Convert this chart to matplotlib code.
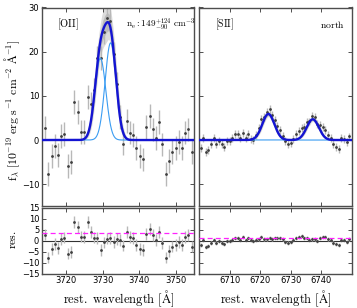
import numpy as np
import matplotlib
matplotlib.use("Agg")
import matplotlib.pyplot as plt

plt.rcParams['mathtext.fontset'] = 'cm'
plt.rcParams['font.family'] = ['DejaVu Sans']
plt.rcParams['font.size'] = 6
for ax_ in ('xtick', 'ytick'):
    plt.rcParams[ax_ + '.direction'] = 'in'
    plt.rcParams[ax_ + '.major.size'] = 3
    plt.rcParams[ax_ + '.major.width'] = 0.6
    plt.rcParams[ax_ + '.major.pad'] = 2
plt.rcParams['xtick.top'] = True
plt.rcParams['ytick.right'] = True

# ---------------- data: [OII] ----------------
oii_wave = [3714.3, 3715.2, 3716.1, 3717.0, 3717.9, 3718.8, 3719.6, 3720.5, 3721.4,
            3722.3, 3723.2, 3724.1, 3725.0, 3725.9, 3726.8, 3727.7, 3728.6, 3729.5,
            3730.3, 3731.2, 3732.1, 3733.0, 3733.9, 3734.8, 3735.7, 3736.6, 3737.5,
            3738.3, 3739.2, 3740.1, 3741.0, 3741.9, 3742.8, 3743.7, 3744.6, 3745.5,
            3746.3, 3747.2, 3748.1, 3749.0, 3749.9, 3750.8, 3751.7, 3752.6, 3753.4,
            3754.3]
oii_flux = [2.8, -7.7, -3.7, -1.4, -3.4, 0.9, 1.4, -5.9, -5.0,
            8.7, 6.3, 1.9, 1.9, 9.8, 8.1, 11.4, 18.5, 18.5,
            24.5, 27.6, 27.0, 19.4, 12.7, 5.3, -0.8, 4.3, 1.7,
            1.1, -1.8, -3.7, -4.4, 3.0, 5.5, 2.4, 0.4, 4.1,
            -1.0, -7.7, -4.8, -2.7, -1.8, -0.5, -1.8, 1.7, 2.4,
            -2.7]
oii_err = 2.7
oii_amp = [18.5, 22.0]
oii_cen = [3729.4, 3732.2]
oii_sig = [1.5, 1.5]
oii_rms = 3.4

# ---------------- data: [SII] ----------------
sii_wave = [6700.3, 6701.2, 6702.0, 6702.9, 6703.8, 6704.6, 6705.5, 6706.4, 6707.3,
            6708.1, 6709.0, 6709.9, 6710.7, 6711.6, 6712.5, 6713.4, 6714.2, 6715.1,
            6716.0, 6716.8, 6717.7, 6718.6, 6719.5, 6720.3, 6721.2, 6722.1, 6723.0,
            6723.8, 6724.7, 6725.6, 6726.5, 6727.3, 6728.2, 6729.1, 6730.0, 6730.8,
            6731.7, 6732.6, 6733.5, 6734.3, 6735.2, 6736.1, 6737.0, 6737.8, 6738.7,
            6739.6, 6740.5, 6741.3, 6742.2, 6743.1, 6744.0, 6744.8, 6745.7, 6746.6,
            6747.5, 6748.3, 6749.2]
sii_flux = [-1.8, 0.5, -2.7, -2.3, -0.9, 0.5, -0.9, -0.2, -0.9,
            -1.5, -0.2, -0.2, 0.5, 1.3, 1.3, 0.5, 1.6, 0.5,
            1.4, 0.2, 0.0, 1.2, 2.7, 4.7, 5.2, 6.3, 7.0,
            5.7, 4.5, 3.2, 2.3, 1.0, -0.3, -1.0, -0.6, 0.2,
            1.3, 2.0, 2.8, 3.0, 4.0, 4.2, 5.5, 5.2, 3.6,
            3.4, 3.0, 2.3, 1.1, 0.4, -0.9, -1.5, -2.0, 0.5,
            0.2, -0.5, 0.8]
sii_err = 0.9
sii_amp = [5.9, 4.7]
sii_cen = [6722.6, 6737.2]
sii_sig = [2.0, 2.0]
sii_rms = 1.1

def gauss(x, a, c, s):
    return a * np.exp(-0.5 * ((x - c) / s) ** 2)

def model(x, amps, cens, sigs):
    return sum(gauss(x, a, c, s) for a, c, s in zip(amps, cens, sigs))

W, H = 357, 308
fig = plt.figure(figsize=(W / 100, H / 100), dpi=100)

def frac(x0, x1, y0, y1):
    return [x0 / W, 1 - y1 / H, (x1 - x0) / W, (y1 - y0) / H]

ax_o = fig.add_axes(frac(42, 194.3, 7.5, 206.3))
ax_or = fig.add_axes(frac(42, 194.3, 207.8, 273.5))
ax_s = fig.add_axes(frac(199, 352.3, 7.5, 206.3))
ax_sr = fig.add_axes(frac(199, 352.3, 207.8, 273.5))

dark_blue = '#1414d2'
light_blue = '#3a9cf2'

def draw(ax, axr, wave, flux, err, amps, cens, sigs, rms, xlim, xticks):
    wave = np.asarray(wave); flux = np.asarray(flux)
    xf = np.linspace(xlim[0], xlim[1], 800)
    tot = model(xf, amps, cens, sigs)
    # uncertainty envelope
    curves = []
    for fa in (0.9, 1.0, 1.1):
        for fs in (0.93, 1.0, 1.07):
            for dc in (-0.15, 0.0, 0.15):
                curves.append(model(xf, [a * fa for a in amps], [c + dc for c in cens],
                                    [s * fs for s in sigs]))
    curves = np.array(curves)
    ax.fill_between(xf, curves.min(0), curves.max(0), color='0.55', alpha=0.3, lw=0, zorder=1)
    ax.fill_between(xf, 0.5 * (curves.min(0) + tot), 0.5 * (curves.max(0) + tot),
                    color='0.45', alpha=0.3, lw=0, zorder=1)
    ax.errorbar(wave, flux, yerr=err, fmt='o', ms=1.0, color='0.25', ecolor='0.72',
                elinewidth=1.0, capsize=0, zorder=2)
    for a, c, s in zip(amps, cens, sigs):
        ax.plot(xf, gauss(xf, a, c, s), color=light_blue, lw=0.8, zorder=3)
    ax.plot(xf, tot, color=dark_blue, lw=1.7, zorder=4)
    ax.set_xlim(xlim); ax.set_ylim(-15, 30)
    ax.set_xticks(xticks); ax.set_xticklabels([])
    ax.set_yticks([-10, 0, 10, 20, 30])

    res = flux - model(wave, amps, cens, sigs)
    axr.errorbar(wave, res, yerr=err, fmt='o', ms=1.0, color='0.25', ecolor='0.72',
                 elinewidth=1.0, capsize=0, zorder=2)
    axr.axhline(0, color='0.2', lw=0.8, zorder=1)
    axr.axhline(rms, color='#ff22ff', lw=0.9, ls=(0, (4, 2.5)), zorder=3)
    axr.set_xlim(xlim); axr.set_ylim(-15, 15)
    axr.set_xticks(xticks)
    axr.set_yticks([-15, -10, -5, 0, 5, 10, 15])
    for a in (ax, axr):
        for sp in a.spines.values():
            sp.set_color('0.3'); sp.set_linewidth(1.0)
        a.tick_params(colors='0.2', labelcolor='black')
    axr.set_xlabel(r'$\mathrm{rest.\ wavelength\ [\AA]}$', fontsize=9, labelpad=2)

draw(ax_o, ax_or, oii_wave, oii_flux, oii_err, oii_amp, oii_cen, oii_sig, oii_rms,
     (3713.5, 3755.0), [3720, 3730, 3740, 3750])
draw(ax_s, ax_sr, sii_wave, sii_flux, sii_err, sii_amp, sii_cen, sii_sig, sii_rms,
     (6699.8, 6750.2), [6710, 6720, 6730, 6740])
ax_s.set_yticklabels([]); ax_sr.set_yticklabels([])

ax_o.text(0.10, 0.915, r'$\mathrm{[OII]}$', transform=ax_o.transAxes, fontsize=7.5, va='center')
ax_o.text(0.55, 0.915, r'$\mathrm{n_e: 149^{+124}_{-90}\ cm^{-3}}$', transform=ax_o.transAxes,
          fontsize=6.7, va='center')
ax_s.text(0.104, 0.915, r'$\mathrm{[SII]}$', transform=ax_s.transAxes, fontsize=7.2, va='center')
ax_s.text(0.952, 0.915, r'$\mathrm{north}$', transform=ax_s.transAxes, fontsize=7,
          va='center', ha='right')

fig.text(12 / W, 1 - 110 / H,
         r'$\mathrm{f_\lambda\ [10^{-19}\ erg\ s^{-1}\ cm^{-2}\ \AA^{-1}]}$',
         rotation=90, fontsize=8.5, ha='center', va='center')
fig.text(12 / W, 1 - 240 / H, r'$\mathrm{res.}$', rotation=90, fontsize=8.5,
         ha='center', va='center')

fig.savefig('out.png', dpi=100)
